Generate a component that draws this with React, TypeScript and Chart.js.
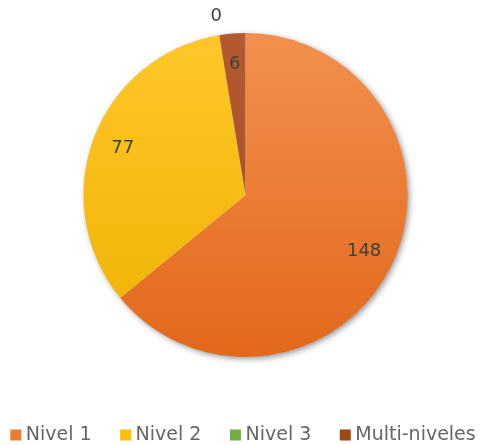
import React, { useEffect, useRef } from "react";
import { Chart, registerables } from "chart.js";

Chart.register(...registerables);

const categories = ["Nivel 1", "Nivel 2", "Nivel 3", "Multi-niveles"];
const values = [148, 77, 0, 6];
const legendColors = ["#ED7D31", "#FFC000", "#70AD47", "#9E480E"];
const gradTop = ["#F3904F", "#FFC72A", "#7DB955", "#B45A30"];
const gradBottom = ["#E2681A", "#EEB200", "#66A13F", "#A04A22"];

const shadowPlugin = {
  id: "pieShadow",
  beforeDatasetsDraw(chart: any) {
    const meta = chart.getDatasetMeta(0);
    const arc = meta.data[0];
    if (!arc) return;
    const { x, y, outerRadius } = arc.getProps(["x", "y", "outerRadius"], true);
    const ctx = chart.ctx;
    ctx.save();
    ctx.shadowColor = "rgba(0,0,0,0.45)";
    ctx.shadowBlur = 6;
    ctx.shadowOffsetX = 2;
    ctx.shadowOffsetY = 2;
    ctx.beginPath();
    ctx.arc(x, y, outerRadius - 0.5, 0, Math.PI * 2);
    ctx.fillStyle = "#ffffff";
    ctx.fill();
    ctx.restore();
  },
};

const labelPlugin = {
  id: "pieLabels",
  afterDatasetsDraw(chart: any) {
    const meta = chart.getDatasetMeta(0);
    const ctx = chart.ctx;
    ctx.save();
    ctx.font = '18px "DejaVu Sans"';
    ctx.fillStyle = "#404040";
    ctx.textAlign = "center";
    ctx.textBaseline = "middle";
    meta.data.forEach((arc: any, i: number) => {
      const { x, y, startAngle, endAngle, outerRadius } = arc.getProps(
        ["x", "y", "startAngle", "endAngle", "outerRadius"],
        true
      );
      const mid = (startAngle + endAngle) / 2;
      const f = values[i] === 0 ? 1.115 : 0.81;
      const lx = x + Math.cos(mid) * outerRadius * f;
      const ly = y + Math.sin(mid) * outerRadius * f;
      ctx.fillText(String(values[i]), lx, ly);
    });
    ctx.restore();
  },
};

export default function App() {
  const ref = useRef<HTMLCanvasElement | null>(null);
  useEffect(() => {
    if (!ref.current) return;
    const makeColor = (i: number) => (c: any) => {
      const chart = c.chart;
      const area = chart.chartArea;
      if (!area) return legendColors[i];
      const cy = (area.top + area.bottom) / 2;
      const r = Math.min(area.right - area.left, area.bottom - area.top) / 2;
      const g = chart.ctx.createLinearGradient(0, cy - r, 0, cy + r);
      g.addColorStop(0, gradTop[i]);
      g.addColorStop(1, gradBottom[i]);
      return g;
    };
    const chart = new Chart(ref.current, {
      type: "pie",
      data: {
        labels: categories,
        datasets: [
          {
            data: values,
            backgroundColor: (c: any) => makeColor(c.dataIndex)(c),
            borderWidth: 0,
          },
        ],
      },
      options: {
        animation: false,
        responsive: true,
        maintainAspectRatio: false,
        layout: { padding: { top: 33, bottom: -9.5, left: -30, right: -30 } },
        plugins: {
          tooltip: { enabled: false },
          legend: {
            position: "bottom",
            align: "center",
            title: {
              display: true,
              text: " ",
              font: { size: 10, lineHeight: 1 },
              padding: { top: 12.5, bottom: 12.5 },
            },
            labels: {
              usePointStyle: true,
              boxWidth: 1,
              boxHeight: 11,
              padding: 33.5,
              color: "#595959",
              font: { family: '"DejaVu Sans"', size: 19 },
              generateLabels: () =>
                categories.map((t, i) => ({
                  text: t,
                  fillStyle: legendColors[i],
                  strokeStyle: legendColors[i],
                  lineWidth: 0,
                  pointStyle: "rect",
                  hidden: false,
                  index: i,
                })),
            },
          },
        },
      },
      plugins: [shadowPlugin, labelPlugin],
    });
    return () => chart.destroy();
  }, []);
  return (
    <div style={{ position: "fixed", left: 0, top: 0, width: 491, height: 445, background: "#fff" }}>
      <canvas ref={ref} />
    </div>
  );
}
